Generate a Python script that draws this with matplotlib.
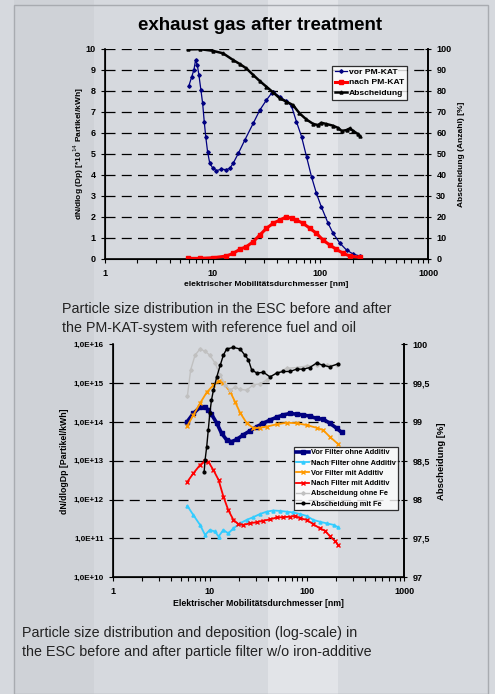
import matplotlib
matplotlib.use("Agg")
import matplotlib.pyplot as plt
import numpy as np
from matplotlib.ticker import FixedLocator, NullFormatter, NullLocator, LogLocator
from matplotlib.patches import Rectangle

plt.rcParams['font.family'] = ['Liberation Sans', 'DejaVu Sans']

# ---- top chart data (dN/dlog(Dp) in 1e14 Partikel/kWh, Abscheidung in %)
d_vor = [6.0, 6.37, 6.7, 6.94, 7.2, 7.45, 7.78, 8.07, 8.35, 8.63, 8.97, 9.4, 9.98, 10.8,
         12.0, 13.4, 14.4, 15.5, 17.3, 19.9, 23.8, 27.4, 31.6, 35.2, 36.5, 42, 48.5, 54,
         60, 66.9, 74.4, 82.8, 92, 102, 118, 131.5, 152, 175, 201, 232]
vor_pmkat = [8.22, 8.64, 9.0, 9.46, 9.22, 8.75, 8.03, 7.4, 6.53, 5.8, 5.1, 4.55, 4.34, 4.2,
             4.27, 4.25, 4.31, 4.55, 5.02, 5.66, 6.45, 7.08, 7.56, 7.88, 7.95, 7.72, 7.5, 7.27,
             6.53, 5.82, 4.87, 3.91, 3.12, 2.49, 1.7, 1.22, 0.75, 0.43, 0.24, 0.14]

d_nach = [5.9, 7.6, 10, 13.4, 15.5, 17.9, 20.6, 23.8, 27.4, 31.6, 36.5, 42, 48.5, 54,
          60, 69, 80, 92, 106, 122, 141, 163, 188, 232]
nach_pmkat = [0.03, 0.03, 0.06, 0.14, 0.27, 0.46, 0.59, 0.82, 1.14, 1.46, 1.7, 1.85, 2.01, 1.93,
              1.85, 1.7, 1.46, 1.22, 0.9, 0.67, 0.46, 0.27, 0.14, 0.08]

d_absch = [5.9, 7.6, 10, 12.5, 15.5, 17.9, 20.6, 23.8, 27.4, 31.6, 36.5, 42, 48.5, 55.7,
           64, 74, 86, 95.5, 102, 114, 131, 147, 158, 175, 188, 201, 225, 232]
abscheidung = [99.7, 99.8, 99.0, 97.8, 94.6, 92.7, 90.6, 87.5, 84.6, 81.9, 79.2, 76.4, 74.8, 73.2,
               69.3, 66.4, 64.2, 63.7, 64.8, 64.2, 63.4, 62.3, 60.9, 61.3, 62.1, 61.0, 59.3, 58.5]

# ---- bottom chart data (exponent of dN/dlogDp, i.e. 14.2 -> 1.6E+14; Abscheidung in %)
d_vor_ohne = [5.78, 6.78, 7.93, 8.94, 9.65, 10.4, 11.8, 13.2, 14.9, 16.7, 18.9, 22.2, 25.9, 30.5,
              35.7, 41.7, 48.8, 57.1, 66.8, 78.3, 91.6, 107, 126, 147, 172, 202, 228]
exp_vor_ohne = [13.99, 14.22, 14.38, 14.38, 14.31, 14.2, 13.97, 13.71, 13.54, 13.49, 13.55, 13.67, 13.77, 13.88,
                13.97, 14.05, 14.12, 14.18, 14.22, 14.2, 14.18, 14.15, 14.09, 14.07, 13.97, 13.84, 13.73]

d_nach_ohne = [5.87, 6.78, 7.93, 8.94, 10, 11.3, 12.3, 13.8, 15.5, 17.5, 20.5, 24, 28.1, 32.9,
               38.5, 45, 52.7, 61.8, 72.3, 85, 99.3, 116, 136, 160, 188, 210]
exp_nach_ohne = [11.84, 11.6, 11.35, 11.09, 11.22, 11.18, 11.05, 11.22, 11.13, 11.26, 11.39, 11.48, 11.55, 11.63,
                 11.69, 11.72, 11.71, 11.69, 11.67, 11.63, 11.58, 11.48, 11.43, 11.39, 11.35, 11.29]

d_vor_mit = [5.87, 6.78, 7.93, 9.28, 10.9, 12.3, 13.8, 16.2, 18.2, 20.5, 24, 28.1, 32.9, 38.5,
             48.8, 61.8, 78.3, 99.3, 126, 147, 172, 210]
exp_vor_mit = [13.9, 14.18, 14.48, 14.76, 14.95, 15.05, 15.0, 14.78, 14.52, 14.24, 13.97, 13.84, 13.85, 13.88,
               13.94, 13.98, 13.97, 13.92, 13.85, 13.79, 13.62, 13.43]

d_nach_mit = [5.87, 6.78, 7.93, 8.94, 9.65, 10.9, 12.3, 13.8, 15.5, 17.5, 19.7, 22.2, 25.9, 30.5,
              35.7, 41.7, 48.8, 57.1, 66.8, 75.5, 85, 99.3, 116, 136, 154, 172, 194, 210]
exp_nach_mit = [12.46, 12.68, 12.89, 13.0, 12.98, 12.76, 12.51, 12.08, 11.73, 11.48, 11.37, 11.35, 11.39, 11.42,
                11.46, 11.49, 11.54, 11.55, 11.56, 11.58, 11.52, 11.48, 11.37, 11.26, 11.2, 11.06, 10.94, 10.83]

d_abs_ohne = [5.87, 6.35, 7.05, 7.93, 8.94, 10, 11.3, 12.8, 14.4, 16.2, 18.2, 20.5, 24, 28.1,
              32.9, 38.5, 48.8, 61.8, 78.3, 99.3, 126, 160, 202]
abs_ohne = [99.33, 99.67, 99.86, 99.94, 99.91, 99.86, 99.76, 99.6, 99.48, 99.41, 99.45, 99.42, 99.41, 99.48,
            99.49, 99.54, 99.63, 99.69, 99.7, 99.72, 99.73, 99.73, 99.73]

d_abs_mit = [8.75, 8.94, 9.29, 9.65, 10, 10.4, 10.9, 11.8, 12.8, 13.8, 14.9, 17.5, 20.5, 23,
             25, 27, 30.5, 35.7, 41.7, 48.8, 57.1, 66.8, 78.3, 91.6, 107, 126, 147, 172, 210]
abs_mit = [98.36, 98.51, 98.68, 98.9, 99.11, 99.28, 99.41, 99.58, 99.73, 99.86, 99.94, 99.96, 99.94, 99.86,
           99.8, 99.67, 99.63, 99.64, 99.58, 99.63, 99.65, 99.65, 99.68, 99.68, 99.7, 99.76, 99.73, 99.71, 99.75]

left_ticks_log = [1e10, 1e11, 1e12, 1e13, 1e14, 1e15, 1e16]
left_labels_log = ['1,0E+10', '1,0E+11', '1,0E+12', '1,0E+13', '1,0E+14', '1,0E+15', '1,0E+16']
right_ticks = [97, 97.5, 98, 98.5, 99, 99.5, 100]
right_labels = ['97', '97,5', '98', '98,5', '99', '99,5', '100']

W, H = 495, 694
fig = plt.figure(figsize=(W / 100, H / 100), dpi=100)
fig.patch.set_facecolor('#d6d9de')
# soft backdrop shapes (lighter pillar, darker left band), kept behind the charts
for x0, w, c in [(268, 70, '#e2e4e8'), (14, 80, '#cfd2d7')]:
    fig.patches.append(Rectangle((x0 / W, 0), w / W, 1, transform=fig.transFigure,
                                 facecolor=c, edgecolor='none', zorder=-5))
fig.patches.append(Rectangle((14 / W, 0), (488 - 14) / W, 1 - 5 / H, transform=fig.transFigure,
                             fill=False, edgecolor='#a8abb0', lw=1, zorder=-4))


def box(l, r, t, b):
    return [l / W, 1 - b / H, (r - l) / W, (b - t) / H]


def style_x(ax, fs):
    ax.set_xscale('log')
    ax.set_xlim(1, 1000)
    ax.xaxis.set_major_locator(FixedLocator([1, 10, 100, 1000]))
    ax.set_xticklabels(['1', '10', '100', '1000'], fontsize=fs, fontweight='bold')
    ax.xaxis.set_minor_locator(LogLocator(base=10, subs=range(2, 10)))
    ax.xaxis.set_minor_formatter(NullFormatter())
    ax.tick_params(axis='x', which='both', direction='out', length=3, width=0.8, pad=4)
    ax.patch.set_alpha(0)
    ax.spines['top'].set_visible(False)
    for s in ['left', 'bottom', 'right']:
        ax.spines[s].set_linewidth(1.2)


# ---------------- top chart
fig.text(260 / W, 1 - 26 / H, 'exhaust gas after treatment', ha='center', va='center',
         fontsize=13.5, fontweight='bold')

ax1 = fig.add_axes(box(105, 428, 48.7, 259))
style_x(ax1, 6.5)
ax1.set_ylim(0, 10)
ax1.set_yticks(range(0, 11))
ax1.set_yticklabels([str(v) for v in range(0, 11)], fontsize=6.5, fontweight='bold')
ax1.tick_params(axis='y', direction='out', length=3, width=0.8)
for v in range(1, 11):
    ax1.axhline(v, color='black', lw=0.9, ls=(0, (8, 5)), zorder=1)
l1, = ax1.plot(d_vor, vor_pmkat, color='#000080', lw=0.9, marker='D', ms=1.8, label='vor PM-KAT', zorder=3)
l2, = ax1.plot(d_nach, nach_pmkat, color='#ff0000', lw=2.2, marker='s', ms=2.5, label='nach PM-KAT', zorder=3)
ax1.set_xlabel('elektrischer Mobilitätsdurchmesser [nm]', fontsize=6, fontweight='bold', labelpad=2)
ax1.set_ylabel('dN/dlog (Dp) [*10$^{14}$ Partikel/kWh]', fontsize=6, fontweight='bold')
ax1.yaxis.set_label_coords(-0.06, 0.5)

ax1r = ax1.twinx()
ax1r.set_ylim(0, 100)
ax1r.set_yticks(range(0, 101, 10))
ax1r.set_yticklabels([str(v) for v in range(0, 101, 10)], fontsize=6.5, fontweight='bold')
ax1r.tick_params(axis='y', direction='inout', length=5, width=0.8)
ax1r.spines['top'].set_visible(False)
ax1r.spines['right'].set_linewidth(1.2)
l3, = ax1r.plot(d_absch, abscheidung, color='black', lw=1.8, marker='^', ms=2.2, label='Abscheidung', zorder=3)
ax1r.set_ylabel('Abscheidung (Anzahl) [%]', fontsize=6, fontweight='bold', labelpad=5)
leg1 = ax1r.legend(handles=[l1, l2, l3], loc='upper left', bbox_to_anchor=(0.69, 0.94),
                   frameon=True, fancybox=False, edgecolor='black', handlelength=1.4, handletextpad=0.3,
                   borderpad=0.3, labelspacing=0.3, prop={'weight': 'bold', 'size': 6.1})
leg1.get_frame().set_linewidth(0.9)

# ---------------- captions
fig.text(62 / W, 1 - 309 / H, 'Particle size distribution in the ESC before and after', ha='left', va='center',
         fontsize=10.3, color='#222222')
fig.text(62 / W, 1 - 328 / H, 'the PM-KAT-system with reference fuel and oil', ha='left', va='center',
         fontsize=10.3, color='#222222')

# ---------------- bottom chart
ax2 = fig.add_axes(box(112.7, 404, 344.3, 577.3))
style_x(ax2, 6.5)
ax2.set_yscale('log')
ax2.set_ylim(1e10, 1e16)
ax2.yaxis.set_major_locator(FixedLocator(left_ticks_log))
ax2.yaxis.set_minor_locator(NullLocator())
ax2.set_yticklabels(left_labels_log, fontsize=5.8, fontweight='bold')
ax2.tick_params(axis='y', direction='out', length=3, width=0.8)
for v in left_ticks_log[1:-1]:
    ax2.axhline(v, color='black', lw=0.9, ls=(0, (8, 5)), zorder=1)
h1, = ax2.plot(d_vor_ohne, 10 ** np.array(exp_vor_ohne), color='#000080', lw=2.6, marker='s', ms=2.5,
               label='Vor Filter ohne Additiv', zorder=3)
h2, = ax2.plot(d_nach_ohne, 10 ** np.array(exp_nach_ohne), color='#33ccff', lw=1.3, marker='^', ms=2.2,
               label='Nach Filter ohne Additiv', zorder=3)
h3, = ax2.plot(d_vor_mit, 10 ** np.array(exp_vor_mit), color='#ff9900', lw=1.3, marker='x', ms=2.5,
               label='Vor Filter mit Additiv', zorder=3)
h4, = ax2.plot(d_nach_mit, 10 ** np.array(exp_nach_mit), color='#ff0000', lw=1.3, marker='x', ms=2.5,
               label='Nach Filter mit Additiv', zorder=3)
ax2.set_xlabel('Elektrischer Mobilitätsdurchmesser [nm]', fontsize=6.3, fontweight='bold', labelpad=2)
ax2.set_ylabel('dN/dlogDp [Partikel/kWh]', fontsize=6.3, fontweight='bold', labelpad=3)

ax2r = ax2.twinx()
ax2r.set_ylim(97, 100)
ax2r.set_yticks(right_ticks)
ax2r.set_yticklabels(right_labels, fontsize=6.5, fontweight='bold')
ax2r.tick_params(axis='y', direction='inout', length=5, width=0.8)
ax2r.spines['top'].set_visible(False)
ax2r.spines['right'].set_linewidth(1.2)
h5, = ax2r.plot(d_abs_ohne, abs_ohne, color='#c0c0c0', lw=1.0, marker='D', ms=1.8, label='Abscheidung ohne Fe', zorder=3)
h6, = ax2r.plot(d_abs_mit, abs_mit, color='black', lw=1.0, marker='o', ms=2.0, label='Abscheidung mit Fe', zorder=3)
ax2r.set_ylabel('Abscheidung [%]', fontsize=6.8, fontweight='bold', labelpad=5)
leg2 = ax2r.legend(handles=[h1, h2, h3, h4, h5, h6], loc='upper left', bbox_to_anchor=(0.61, 0.575),
                   frameon=True, fancybox=False, edgecolor='black', handlelength=1.7, handletextpad=0.3,
                   borderpad=0.3, labelspacing=0.42, prop={'weight': 'bold', 'size': 5.3})
leg2.get_frame().set_linewidth(0.9)

fig.text(22 / W, 1 - 633 / H, 'Particle size distribution and deposition (log-scale) in', ha='left', va='center',
         fontsize=10.3, color='#222222')
fig.text(22 / W, 1 - 652 / H, 'the ESC before and after particle filter w/o iron-additive', ha='left', va='center',
         fontsize=10.3, color='#222222')

fig.savefig('out.png', dpi=100, facecolor=fig.get_facecolor())
